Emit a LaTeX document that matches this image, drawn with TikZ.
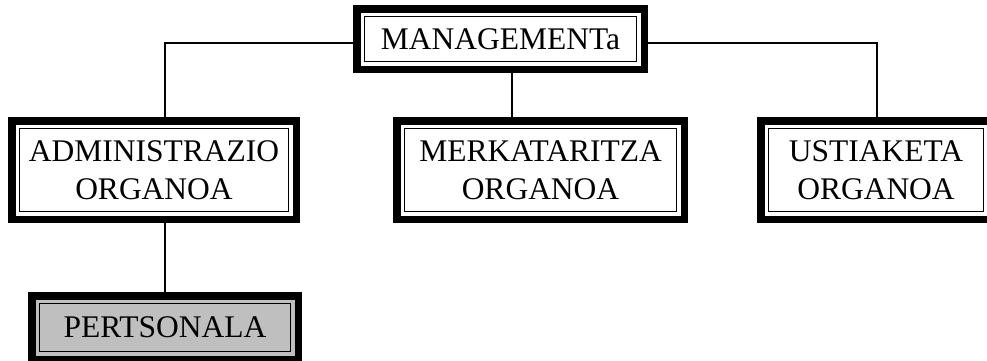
\documentclass[tikz,border=0pt]{standalone}
\usepackage{fontspec}
\setmainfont{Liberation Serif}
\begin{document}
\begin{tikzpicture}[x=1pt,y=-1pt,
  orgbox/.style={draw, line width=7.5pt, inner sep=0pt, align=center,
    font=\fontsize{31.5}{38}\selectfont},
  conn/.style={line width=1.3pt},
  inner/.style={line width=1.5pt}]
  \useasboundingbox (0,0) rectangle (987,360);

  % organisation boxes (anchors sit on the outer edge of the thick frame)
  \node[orgbox, minimum width=287.5pt, minimum height=60.5pt] (mgmt) at (500.5,39) {MANAGEMENTa};
  \node[orgbox, minimum width=284.5pt, minimum height=98.5pt] (admin) at (154,170) {ADMINISTRAZIO\\ORGANOA};
  \node[orgbox, minimum width=287.5pt, minimum height=98.5pt] (merk) at (540.5,170) {MERKATARITZA\\ORGANOA};
  \node[orgbox, minimum width=230.5pt, minimum height=98.5pt] (ustia) at (876,170) {USTIAKETA\\ORGANOA};
  \node[orgbox, fill=black!25, minimum width=266.5pt, minimum height=63.5pt] (pers) at (165,327.5) {PERTSONALA};

  % thin inner line of each double frame
  \foreach \n in {mgmt,admin,merk,ustia,pers}
    \draw[inner] ([shift={(11.5pt,-11.5pt)}]\n.north west) rectangle ([shift={(-11.5pt,11.5pt)}]\n.south east);

  % connectors
  \draw[conn] ([yshift=-4pt]mgmt.west) -| (admin.north -| pers.north);
  \draw[conn] ([yshift=-4pt]mgmt.east) -| ([xshift=1pt]ustia.north);
  \draw[conn] ([xshift=11.5pt]mgmt.south) -- ([xshift=-28.5pt]merk.north);
  \draw[conn] (admin.south -| pers.north) -- (pers.north);
\end{tikzpicture}
\end{document}
